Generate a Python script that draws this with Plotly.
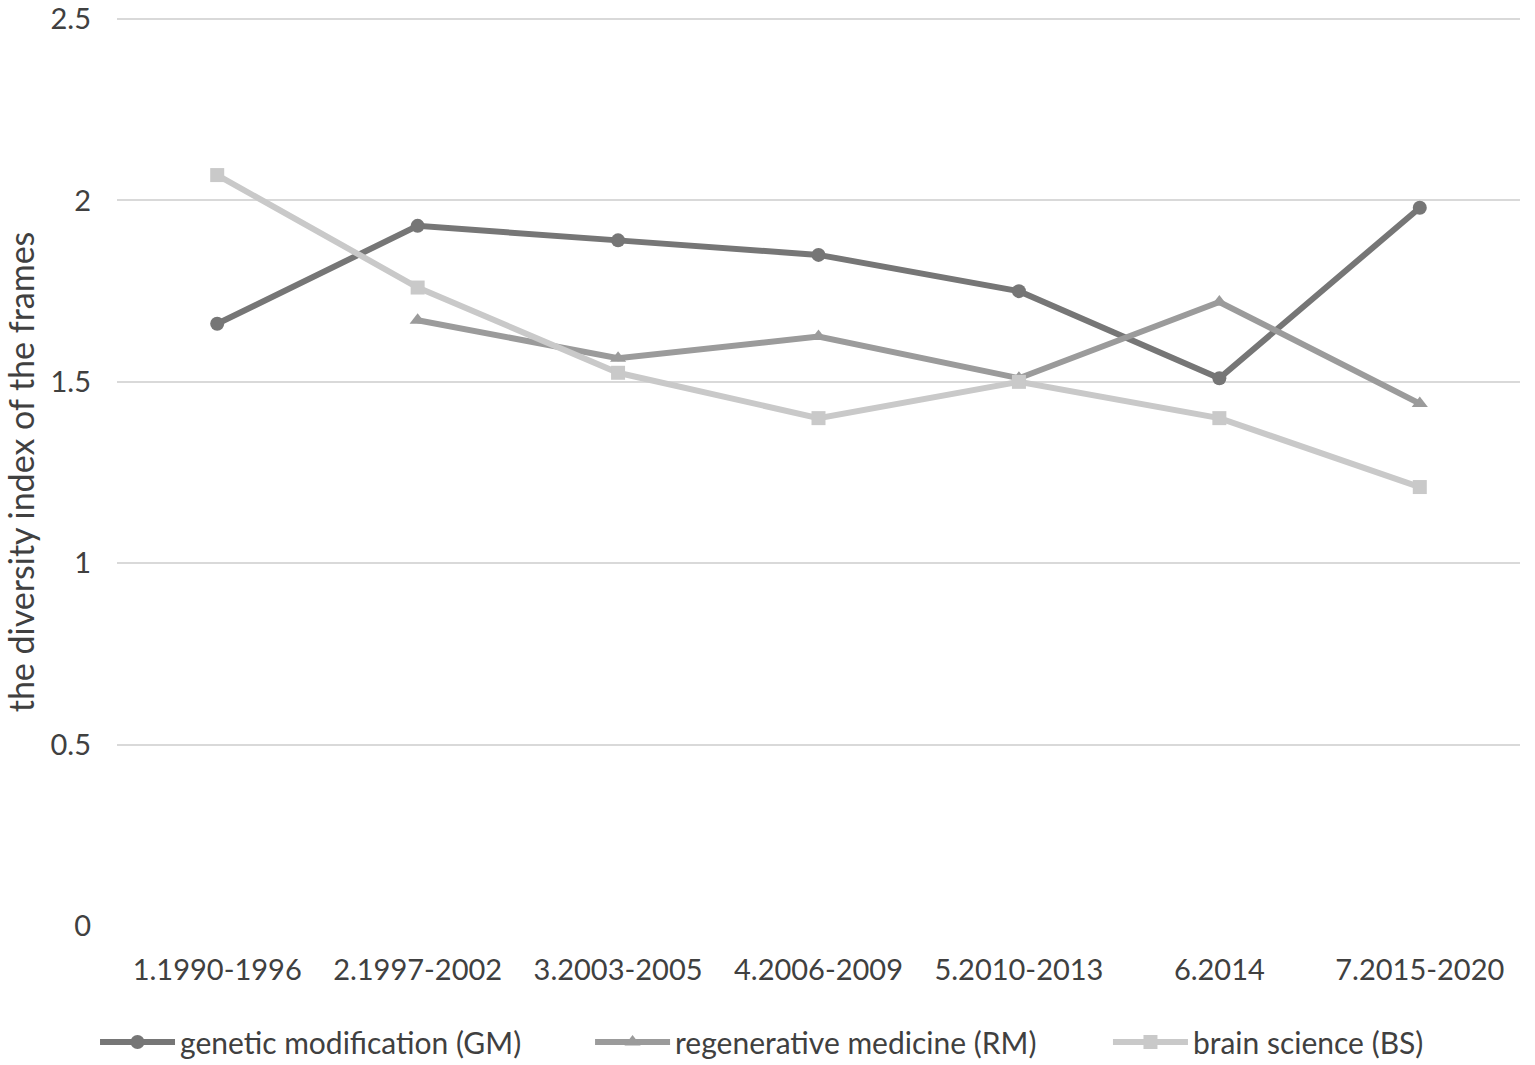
import plotly.graph_objects as go

categories = ["1.1990-1996", "2.1997-2002", "3.2003-2005", "4.2006-2009",
              "5.2010-2013", "6.2014", "7.2015-2020"]
gm_values = [1.66, 1.93, 1.89, 1.85, 1.75, 1.51, 1.98]
rm_values = [None, 1.67, 1.565, 1.625, 1.51, 1.72, 1.44]
bs_values = [2.07, 1.76, 1.525, 1.40, 1.50, 1.40, 1.21]
y_ticks = [0, 0.5, 1, 1.5, 2, 2.5]
y_tick_text = ["0", "0.5", "1", "1.5", "2", "2.5"]

FONT = "Lato, 'Open Sans', sans-serif"
TXT = "#404040"

fig = go.Figure()
series = [
    ("genetic modification (GM)", gm_values, "#767676", "circle", "legend"),
    ("regenerative medicine (RM)", rm_values, "#9b9b9b", "triangle-up", "legend2"),
    ("brain science (BS)", bs_values, "#c9c9c9", "square", "legend3"),
]
for name, vals, col, sym, lg in series:
    fig.add_trace(go.Scatter(
        x=categories, y=vals, name=name, mode="lines+markers",
        line=dict(color=col, width=6),
        marker=dict(color=col, symbol=sym, size=14),
        connectgaps=False, legend=lg,
    ))

def leg(xpos):
    return dict(orientation="h", xref="container", yref="container",
                x=xpos, xanchor="left", y=0.0216, yanchor="middle",
                font=dict(family=FONT, size=30, color=TXT),
                itemwidth=75, bgcolor="rgba(0,0,0,0)", borderwidth=0)

fig.update_layout(
    width=1535, height=1065,
    paper_bgcolor="white", plot_bgcolor="white",
    margin=dict(l=117, r=15, t=18, b=139, autoexpand=False),
    font=dict(family=FONT, size=29, color=TXT),
    showlegend=True,
    legend=leg(0.0619), legend2=leg(0.3844), legend3=leg(0.7218),
)
fig.update_xaxes(
    type="category", range=[-0.5, 6.5], showgrid=False, zeroline=False,
    showline=False, ticks="", ticklabelstandoff=24, automargin=False,
    tickfont=dict(family=FONT, size=29, color=TXT),
)
fig.update_yaxes(
    range=[0, 2.503], tickvals=y_ticks, ticktext=y_tick_text,
    showgrid=True, gridcolor="#d9d9d9", gridwidth=2, zeroline=False,
    showline=False, ticks="", ticklabelstandoff=25, automargin=False,
    ticklabeloverflow="allow",
    tickfont=dict(family=FONT, size=29, color=TXT),
    title=dict(text="the diversity index of the frames",
               font=dict(family=FONT, size=34, color=TXT), standoff=12),
)

fig.write_html("out.html", config={"displayModeBar": False},
               post_script="document.body.style.margin='0';")
